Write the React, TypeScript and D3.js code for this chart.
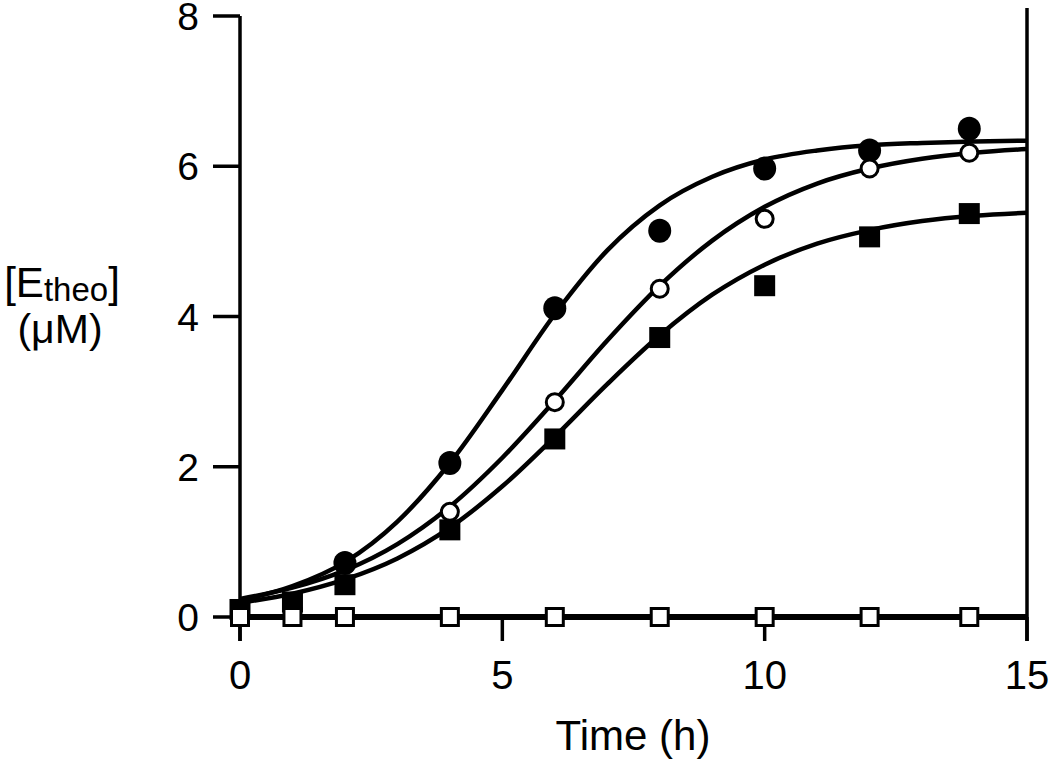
import React from "react";
import * as d3 from "d3";

// ---- data ----
const xTicks = [0, 5, 10, 15];
const yTicks = [0, 2, 4, 6, 8];

const filledCircleT = [2, 4, 6, 8, 10, 12, 13.9];
const filledCircleY = [0.72, 2.05, 4.11, 5.14, 5.97, 6.21, 6.5];

const openCircleT = [4, 6, 8, 10, 12, 13.9];
const openCircleY = [1.4, 2.86, 4.37, 5.3, 5.97, 6.18];

const filledSquareT = [0, 1, 2, 4, 6, 8, 10, 12, 13.9];
const filledSquareY = [0.1, 0.2, 0.43, 1.16, 2.37, 3.72, 4.41, 5.06, 5.37];

const openSquareT = [0, 1, 2, 4, 6, 8, 10, 12, 13.9];
const openSquareY = [0, 0, 0, 0, 0, 0, 0, 0, 0];

const curveT = [0, 1, 2, 3, 4, 5, 6, 7, 8, 9, 10, 11, 12, 13, 14, 15];
const curveFilledCircle = [0.22, 0.41, 0.73, 1.27, 2.05, 3.02, 4.03, 4.88, 5.48, 5.86, 6.09, 6.21, 6.28, 6.31, 6.33, 6.34];
const curveOpenCircle = [0.24, 0.39, 0.62, 0.97, 1.47, 2.12, 2.88, 3.68, 4.41, 5.01, 5.46, 5.77, 5.97, 6.1, 6.18, 6.23];
const curveFilledSquare = [0.19, 0.31, 0.5, 0.78, 1.19, 1.74, 2.4, 3.1, 3.75, 4.29, 4.69, 4.97, 5.15, 5.27, 5.34, 5.38];
const curveOpenSquare = [0, 0, 0, 0, 0, 0, 0, 0, 0, 0, 0, 0, 0, 0, 0, 0];

const FONT = "'Liberation Sans', Arial, Helvetica, sans-serif";

export default function App() {
  const x = d3.scaleLinear().domain([0, 15]).range([240, 1027]);
  const y = d3.scaleLinear().domain([0, 8]).range([617, 16]);

  const line = d3
    .line<[number, number]>()
    .x((d) => x(d[0]))
    .y((d) => y(d[1]))
    .curve(d3.curveMonotoneX);

  const zip = (ts: number[], vs: number[]) => ts.map((t, i) => [t, vs[i]] as [number, number]);

  const axisW = 3.5;
  const curveW = 4.5;

  return (
    <svg
      width={1050}
      height={764}
      style={{ position: "absolute", left: 0, top: 0, background: "#fff" }}
      fontFamily={FONT}
    >
      <rect x={0} y={0} width={1050} height={764} fill="#fff" />
      {/* axes */}
      <line x1={x(0)} x2={x(0)} y1={y(8)} y2={y(0) + 24} stroke="#000" strokeWidth={axisW} />
      <line x1={x(15)} x2={x(15)} y1={y(8) - 8} y2={y(0) + 24} stroke="#000" strokeWidth={axisW} />
      <line x1={x(0)} x2={x(15)} y1={y(0)} y2={y(0)} stroke="#000" strokeWidth={axisW} />
      {yTicks.map((t) => (
        <g key={"yt" + t}>
          <line x1={x(0) - 27} x2={x(0)} y1={y(t)} y2={y(t)} stroke="#000" strokeWidth={axisW} />
          <text x={199} y={y(t)} dy="0.36em" textAnchor="end" fontSize={39}>
            {t}
          </text>
        </g>
      ))}
      {xTicks.map((t) => (
        <g key={"xt" + t}>
          <line x1={x(t)} x2={x(t)} y1={y(0)} y2={y(0) + 24} stroke="#000" strokeWidth={axisW} />
          <text x={x(t)} y={689} textAnchor="middle" fontSize={40}>
            {t}
          </text>
        </g>
      ))}

      {/* axis titles */}
      <text x={62} y={297} textAnchor="middle" fontSize={42}>
        [E<tspan fontSize={33} dy={4}>theo</tspan>
        <tspan dy={-4}>]</tspan>
      </text>
      <text x={60} y={343} textAnchor="middle" fontSize={41}>
        (μM)
      </text>
      <text x={633} y={750} textAnchor="middle" fontSize={42}>
        Time (h)
      </text>

      {/* fitted curves */}
      <path d={line(zip(curveT, curveOpenSquare)) || ""} fill="none" stroke="#000" strokeWidth={6} />
      <path d={line(zip(curveT, curveFilledCircle)) || ""} fill="none" stroke="#000" strokeWidth={curveW} />
      <path d={line(zip(curveT, curveOpenCircle)) || ""} fill="none" stroke="#000" strokeWidth={curveW} />
      <path d={line(zip(curveT, curveFilledSquare)) || ""} fill="none" stroke="#000" strokeWidth={curveW} />

      {/* markers */}
      {zip(filledSquareT, filledSquareY).map(([t, v], i) => (
        <rect key={"fs" + i} x={x(t) - 10.5} y={y(v) - 10.5} width={21} height={21} fill="#000" />
      ))}
      {zip(filledCircleT, filledCircleY).map(([t, v], i) => (
        <ellipse key={"fc" + i} cx={x(t)} cy={y(v)} rx={11.5} ry={12} fill="#000" />
      ))}
      {zip(openCircleT, openCircleY).map(([t, v], i) => (
        <circle key={"oc" + i} cx={x(t)} cy={y(v)} r={8.5} fill="#fff" stroke="#000" strokeWidth={3} />
      ))}
      {zip(openSquareT, openSquareY).map(([t, v], i) => (
        <rect key={"os" + i} x={x(t) - 8.5} y={y(v) - 8.5} width={17} height={17} fill="#fff" stroke="#000" strokeWidth={3} />
      ))}
    </svg>
  );
}
